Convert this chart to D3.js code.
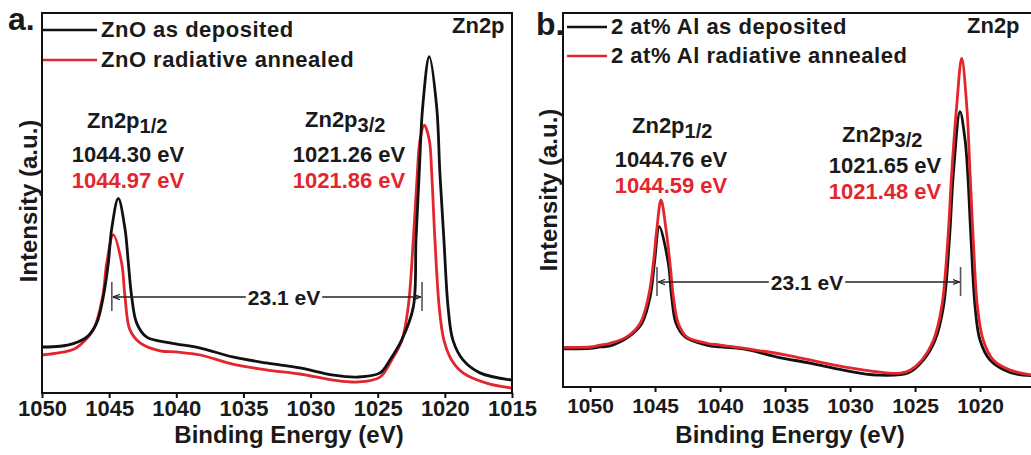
<!DOCTYPE html>
<html lang="en">
<head>
    <meta charset="utf-8">
    <title>Zn2p XPS</title>
    <style>
        body { margin: 0; background: #fff; }
        svg text { font-family: 'Liberation Sans', Arial, sans-serif; font-weight: bold; }
    </style>
    <script src="https://d3js.org/d3.v7.min.js" charset="utf-8"></script>
</head>
<body>
    <svg id="chart" width="1031" height="455"></svg>

    <script type="text/javascript">
      // binding energies (eV) and intensities (a.u.)
      var eZnODep = [1050, 1048.66, 1047.67, 1046.67, 1045.93, 1045.44, 1045.06, 1044.81, 1044.32, 1043.82, 1043.57, 1043.32, 1042.95, 1042.2, 1040.47, 1038.2, 1035.8, 1033.3, 1030.8, 1028.3, 1026.5, 1024.83, 1024.09, 1023.22, 1022.35, 1022.15, 1021.91, 1021.65, 1021.16, 1020.61, 1020.37, 1020.07, 1019.76, 1019.4, 1018.65, 1017.39, 1015];
      var iZnODep = [12.1, 12.3, 13.0, 14.7, 18.4, 25.3, 34.2, 43.2, 51.2, 43.2, 34.2, 25.3, 18.4, 14.7, 13.2, 11.8, 9.5, 7.9, 6.6, 4.7, 4.2, 5.3, 8.7, 13.9, 22.6, 40.3, 57.9, 75.3, 88.5, 75.3, 57.9, 40.3, 22.6, 13.9, 8.7, 5.3, 3.4];

      var eZnOAnn = [1050, 1048.66, 1047.6, 1047.17, 1046.18, 1045.48, 1045.18, 1044.69, 1044.07, 1043.82, 1043.45, 1042.7, 1041.21, 1040, 1038.2, 1035.8, 1033.3, 1030.8, 1028.3, 1026.5, 1024.83, 1023.96, 1023.2, 1022.73, 1022.35, 1022.05, 1021.85, 1021.53, 1021.16, 1020.98, 1020.74, 1020.42, 1020.07, 1019.5, 1018.65, 1016.9, 1015];
      var iZnOAnn = [10.0, 10.6, 11.6, 12.6, 16.6, 25.4, 34.2, 41.6, 34.2, 25.4, 16.6, 13.2, 11.1, 10.8, 10.0, 7.6, 6.1, 5.0, 3.4, 2.9, 4.2, 8.7, 13.9, 22.6, 40.3, 57.9, 66.6, 70.5, 66.6, 57.9, 40.3, 22.6, 13.9, 8.7, 5.3, 2.6, 1.3];

      var eAlDep = [1052, 1050, 1049.23, 1048.46, 1047.05, 1046.02, 1045.38, 1045.05, 1044.67, 1043.98, 1043.72, 1043.38, 1042.69, 1041.02, 1040, 1038.2, 1035.6, 1033.1, 1030.5, 1027.9, 1025.5, 1024.36, 1023.46, 1022.82, 1022.36, 1022.05, 1021.54, 1021.15, 1020.95, 1020.69, 1020.38, 1020, 1019.23, 1017.69, 1016];
      var iAlDep = [10.2, 10.3, 10.7, 11.0, 13.4, 17.0, 24.1, 33.1, 42.9, 33.1, 24.1, 17.0, 13.4, 11.2, 10.7, 10.2, 8.0, 6.4, 4.5, 3.2, 3.8, 7.2, 12.5, 21.4, 39.3, 57.2, 73.6, 66.0, 57.2, 39.3, 21.4, 12.5, 7.2, 3.9, 3.0];

      var eAlAnn = [1052, 1050, 1049.23, 1048.46, 1047.18, 1046.15, 1045.51, 1045.13, 1044.87, 1044.54, 1044.15, 1043.85, 1043.59, 1043.21, 1042.56, 1041.02, 1040, 1037.5, 1035, 1032.5, 1030, 1027, 1026.15, 1025.38, 1024.48, 1023.59, 1022.95, 1022.48, 1022.18, 1021.8, 1021.41, 1021.02, 1020.77, 1020.52, 1020.2, 1019.75, 1018.98, 1017.69, 1016];
      var iAlAnn = [10.6, 10.7, 11.2, 11.7, 13.4, 17.0, 24.1, 33.1, 42.0, 50.0, 42.0, 33.1, 24.1, 17.0, 13.4, 11.7, 11.2, 10.0, 8.6, 6.8, 5.1, 3.7, 3.7, 4.5, 7.2, 12.5, 21.4, 39.3, 57.2, 75.0, 87.9, 75.0, 57.2, 39.3, 21.4, 12.5, 7.2, 4.5, 3.2];

      var ticksA = [1050, 1045, 1040, 1035, 1030, 1025, 1020, 1015];
      var ticksB = [1050, 1045, 1040, 1035, 1030, 1025, 1020];

      var legendA = ["ZnO as deposited", "ZnO radiative annealed"];
      var legendB = ["2 at% Al as deposited", "2 at% Al radiative annealed"];

      // peak position labels: [as deposited, annealed]
      var peaksA = [["1044.30 eV", "1044.97 eV"], ["1021.26 eV", "1021.86 eV"]];
      var peaksB = [["1044.76 eV", "1044.59 eV"], ["1021.65 eV", "1021.48 eV"]];
      var splitting = "23.1 eV";

      var BLACK = "#111", RED = "#e3262e";
      var svg = d3.select("#chart");

      function zip(e, v) { return e.map(function (d, i) { return [d, v[i]]; }); }

      // arrow head for the 23.1 eV bar
      svg.append("defs").append("marker")
        .attr("id", "arr").attr("viewBox", "0 0 8 8")
        .attr("refX", 8).attr("refY", 4)
        .attr("markerWidth", 7).attr("markerHeight", 7)
        .attr("markerUnits", "userSpaceOnUse")
        .attr("orient", "auto")
        .append("path").attr("d", "M0,1L8,4L0,7").attr("fill", "none")
        .attr("stroke", "#222").attr("stroke-width", 1.3);

      function panel(p) {
        var x = d3.scaleLinear().domain(p.xdom).range([p.left, p.right]);
        var y = d3.scaleLinear().domain([0, 100]).range([p.bottom, p.top]);
        var g = svg.append("g");

        var line = d3.line()
          .x(function (d) { return x(d[0]); })
          .y(function (d) { return y(d[1]); })
          .curve(d3.curveCatmullRom.alpha(0.5));

        p.series.forEach(function (s) {
          g.append("path")
            .attr("d", line(zip(s.e, s.v)))
            .attr("fill", "none")
            .attr("stroke", s.c)
            .attr("stroke-width", 2.8)
            .attr("stroke-linejoin", "round");
        });

        // frame
        g.append("rect")
          .attr("x", p.left).attr("y", p.top)
          .attr("width", p.right - p.left).attr("height", p.bottom - p.top)
          .attr("fill", "none").attr("stroke", "#111").attr("stroke-width", 2);

        var ax = g.append("g")
          .attr("transform", "translate(0," + p.bottom + ")")
          .call(d3.axisBottom(x).tickValues(p.ticks).tickSize(5).tickPadding(p.pad).tickFormat(d3.format("d")));
        ax.select(".domain").remove();
        ax.selectAll("line").attr("stroke", "#111").attr("stroke-width", 2);
        ax.selectAll("text").attr("font-size", p.tickFs).attr("fill", "#1a1a1a")
          .style("font-family", "'Liberation Sans', Arial, sans-serif").style("font-weight", "bold");

        g.append("text").attr("x", p.xTitle).attr("y", 443)
          .attr("text-anchor", "middle").attr("font-size", 24).attr("fill", "#1a1a1a")
          .text("Binding Energy (eV)");

        g.append("text")
          .attr("transform", "translate(" + p.yTitleX + "," + p.yTitleY + ") rotate(-90)")
          .attr("text-anchor", "middle").attr("font-size", 24).attr("fill", "#1a1a1a")
          .text("Intensity (a.u.)");

        // panel letter and core level
        g.append("text").attr("x", p.letterX).attr("y", p.letterY)
          .attr("font-size", 32).attr("fill", "#1a1a1a").text(p.letter);
        g.append("text").attr("x", p.coreX).attr("y", 33)
          .attr("font-size", 22).attr("fill", "#1a1a1a").text("Zn2p");

        // legend
        p.legend.forEach(function (t, i) {
          var ly = p.legY[i];
          g.append("line").attr("x1", p.legX0).attr("x2", p.legX1)
            .attr("y1", ly).attr("y2", ly)
            .attr("stroke", i ? RED : BLACK).attr("stroke-width", 2.5);
          g.append("text").attr("x", p.legX1 + 4).attr("y", ly + 6.5)
            .attr("font-size", 22).attr("letter-spacing", 0.5).attr("fill", "#1a1a1a").text(t);
        });

        // peak labels
        p.labels.forEach(function (L, i) {
          var t = g.append("text").attr("x", L.tx).attr("y", L.ty)
            .attr("font-size", 22).attr("fill", "#1a1a1a");
          t.append("tspan").text("Zn2p");
          t.append("tspan").attr("dy", 5).attr("font-size", 20).text(i ? "3/2" : "1/2");
          g.append("text").attr("x", L.cx).attr("y", L.by)
            .attr("text-anchor", "middle").attr("font-size", 22).attr("fill", "#1a1a1a")
            .text(p.peaks[i][0]);
          g.append("text").attr("x", L.cx).attr("y", L.by + 26)
            .attr("text-anchor", "middle").attr("font-size", 22).attr("fill", RED)
            .text(p.peaks[i][1]);
        });

        // spin-orbit splitting bar
        var x1 = x(p.split[0]), x2 = x(p.split[1]), sy = p.splitY;
        [x1, x2].forEach(function (xx) {
          g.append("line").attr("x1", xx).attr("x2", xx)
            .attr("y1", sy - 15).attr("y2", sy + 14)
            .attr("stroke", "#555").attr("stroke-width", 1.6);
        });
        var st = g.append("text").attr("x", p.splitTx).attr("y", sy + 7.5)
          .attr("text-anchor", "middle").attr("font-size", 21).attr("fill", "#1a1a1a")
          .text(splitting);
        var w = st.node().getComputedTextLength();
        g.append("line").attr("x1", p.splitTx - w / 2 - 2).attr("x2", x1 + 1)
          .attr("y1", sy).attr("y2", sy).attr("stroke", "#222").attr("stroke-width", 1.3)
          .attr("marker-end", "url(#arr)");
        g.append("line").attr("x1", p.splitTx + w / 2 + 2).attr("x2", x2 - 1)
          .attr("y1", sy).attr("y2", sy).attr("stroke", "#222").attr("stroke-width", 1.3)
          .attr("marker-end", "url(#arr)");
      }

      panel({
        left: 42, right: 512, top: 13, bottom: 393, xdom: [1050, 1015],
        ticks: ticksA, pad: 2, tickFs: 22, xTitle: 289, yTitleX: 37, yTitleY: 201,
        letter: "a.", letterX: 8, letterY: 30, coreX: 452,
        legend: legendA, legX0: 43, legX1: 97, legY: [30, 60],
        series: [{ e: eZnOAnn, v: iZnOAnn, c: RED }, { e: eZnODep, v: iZnODep, c: BLACK }],
        peaks: peaksA,
        labels: [{ tx: 87, ty: 128, cx: 128, by: 162 }, { tx: 305, ty: 127, cx: 349, by: 162 }],
        split: [1044.8, 1021.7], splitY: 297, splitTx: 284
      });

      panel({
        left: 563, right: 1034, top: 13, bottom: 387, xdom: [1052.08, 1015.85],
        ticks: ticksB, pad: 6, tickFs: 21, xTitle: 790, yTitleX: 557, yTitleY: 190,
        letter: "b.", letterX: 536, letterY: 35, coreX: 967,
        legend: legendB, legX0: 567, legX1: 607, legY: [27, 56],
        series: [{ e: eAlDep, v: iAlDep, c: BLACK }, { e: eAlAnn, v: iAlAnn, c: RED }],
        peaks: peaksB,
        labels: [{ tx: 632, ty: 133, cx: 671, by: 167 }, { tx: 842, ty: 142, cx: 885, by: 173 }],
        split: [1044.85, 1021.5], splitY: 282, splitTx: 807
      });
    </script>
</body>
</html>
